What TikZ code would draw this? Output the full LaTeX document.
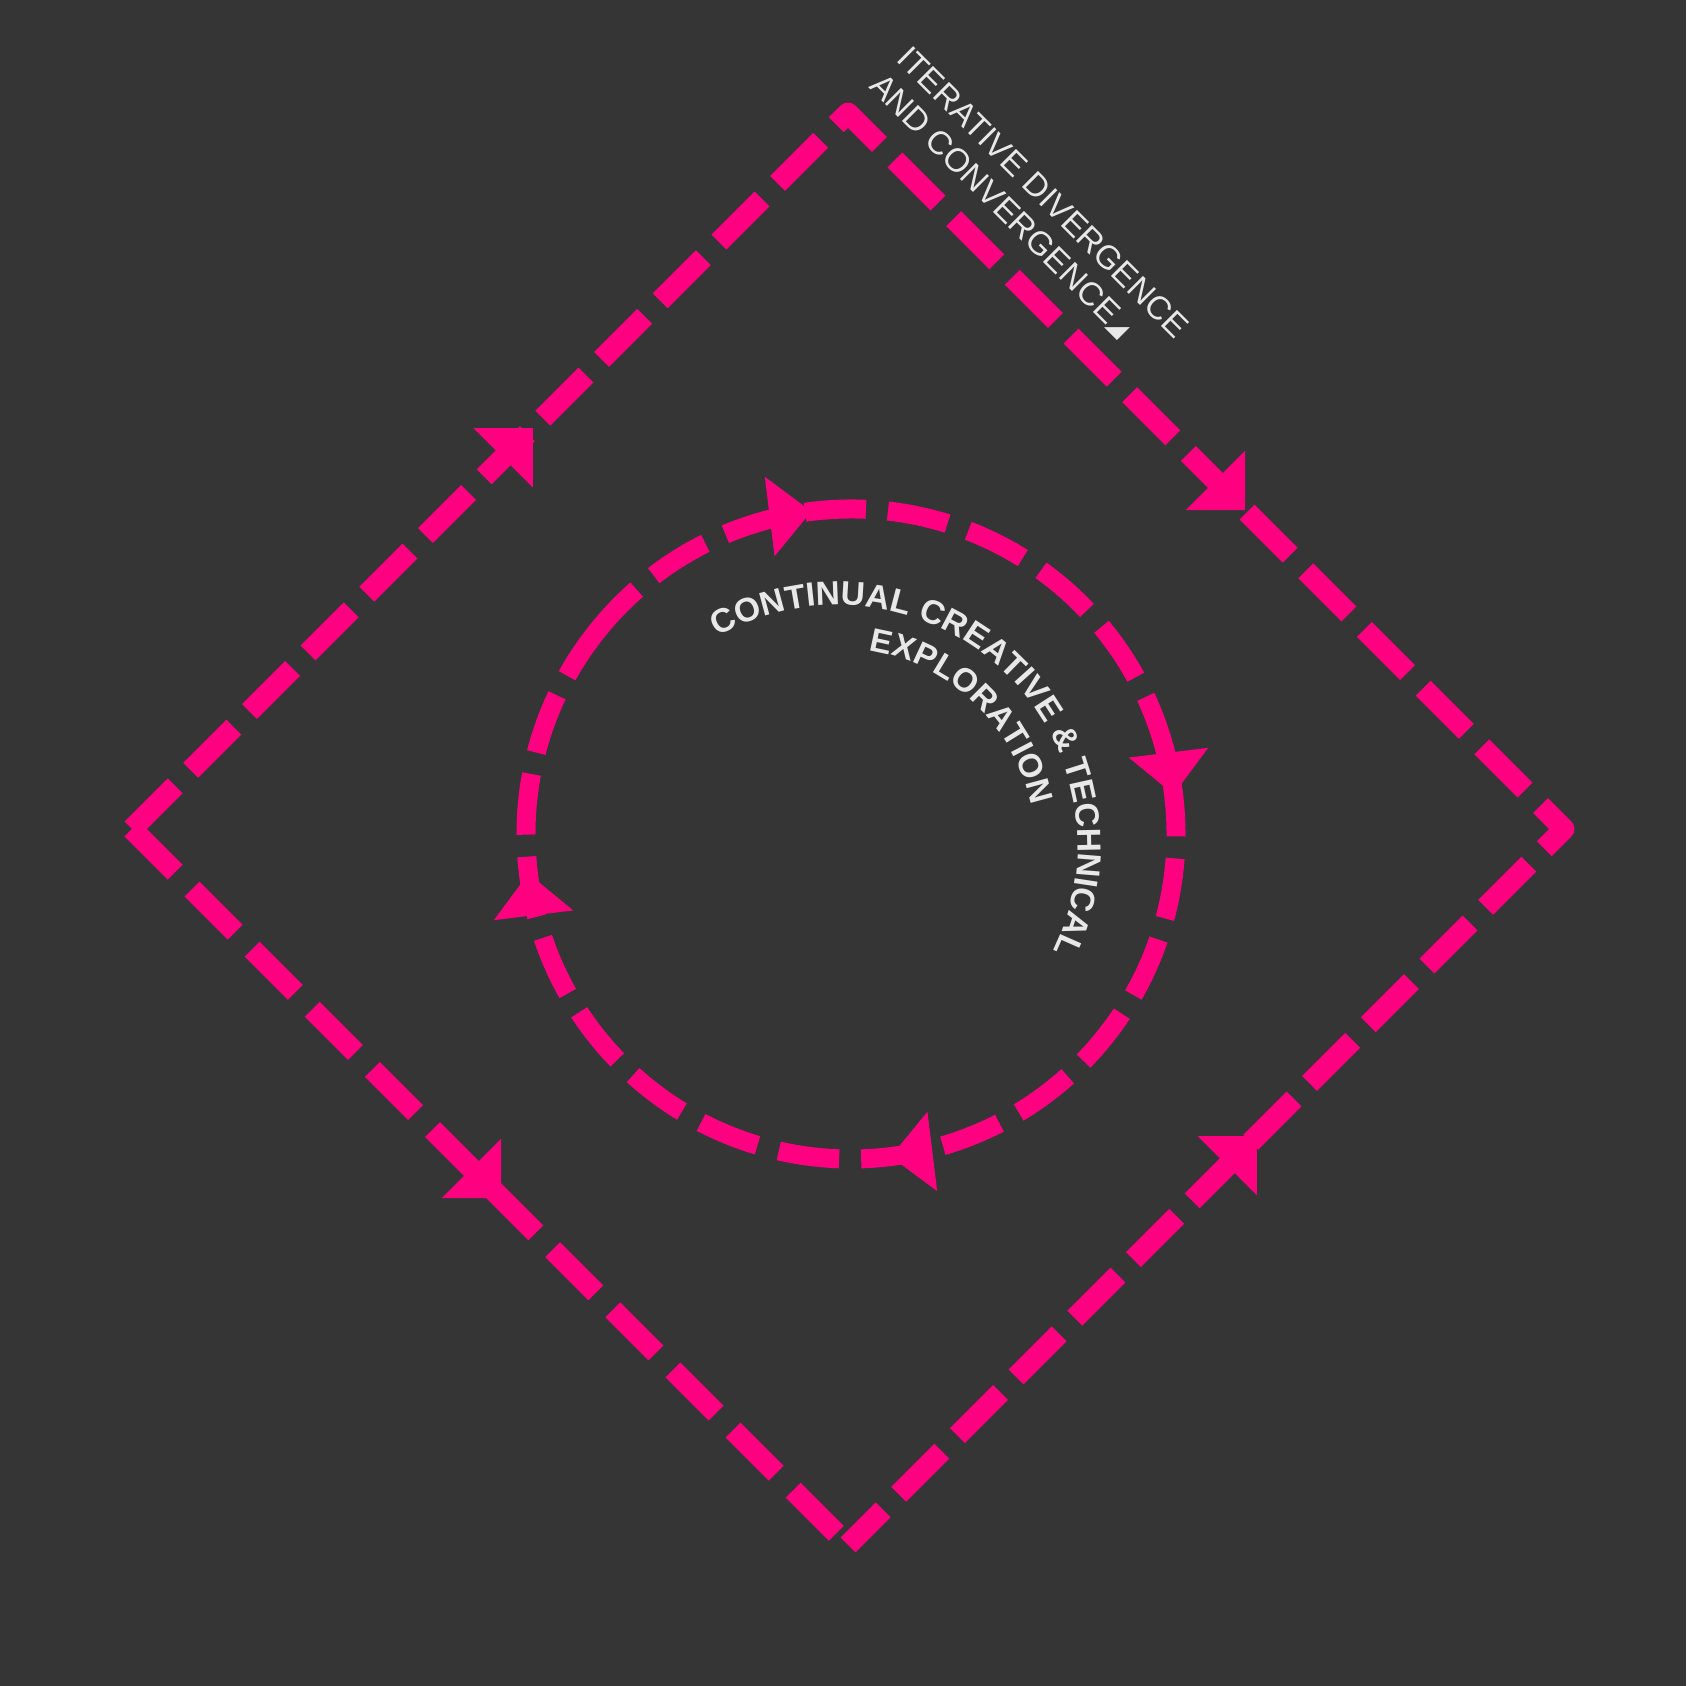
\documentclass[tikz,border=0pt]{standalone}
\usepackage{fontspec}
\setmainfont{Liberation Sans}
\newfontfamily\symfam{DejaVu Sans}
\usetikzlibrary{decorations.markings,decorations.text}
\definecolor{bgc}{HTML}{353535}
\definecolor{mag}{HTML}{FF0080}
\definecolor{txtc}{HTML}{E8E8E8}
\newcommand\diatip{\fill[mag] (0,0) -- (-42,42) -- (-42,-42) -- cycle;}
\newcommand\diatipback{\fill[mag] (0,0) -- (42,42) -- (42,-42) -- cycle;}
\newcommand\ringtip{\fill[mag] (0,0) -- (-42,40) -- (-42,-40) -- cycle;}
\begin{document}
\begin{tikzpicture}[x=1pt,y=1pt,
  flow/.style={draw=mag, line width=21pt, dash pattern=on 61pt off 22pt, line join=round},
  ring/.style={draw=mag, line width=19pt, dash pattern=on 61pt off 22pt},
  lbl/.style={text=txtc, font=\fontsize{33}{38}\selectfont, inner sep=0pt, rotate=-45, anchor=base west},
]
\fill[bgc] (0,0) rectangle (1686,1686);
\useasboundingbox (0,0) rectangle (1686,1686);
% diamond corners
\coordinate (L) at (132,857);
\coordinate (T) at (848,1573);
\coordinate (R) at (1564,857);
\coordinate (B) at (848,141);
% circle centre and text centre
\coordinate (C) at (851,852);
\coordinate (TC) at (838,841);
% upper path L -> T -> R, and the return edge R -> B
\draw[flow, postaction={decorate, decoration={markings,
   mark=at position 567pt with {\diatip},
   mark=at position 1574pt with {\diatip},
   mark=at position 2459pt with {\diatipback}}}]
  (L) -- (T) -- (R) -- (B);
% lower edge L -> B
\draw[flow, dash pattern=on 61pt off 24pt, postaction={decorate, decoration={markings,
   mark=at position 522pt with {\diatip}}}]
  (L) -- (B);
% inner loop, clockwise
\draw[ring, postaction={decorate, decoration={markings,
   mark=between positions 0.125 and 1 step 0.25 with {\ringtip}}}]
  (C) ++(142:325) arc[start angle=142, end angle=-218, radius=325];
% curved labels
\path[decorate, decoration={text along path, text color=txtc,
   text={|\fontsize{33.5}{33.5}\selectfont\bfseries|CONTINUAL CREATIVE {\&} TECHNICAL}}]
  (TC) ++(120:240) arc[start angle=120, end angle=-70, radius=240];
\path[decorate, decoration={text along path, text color=txtc,
   text={|\fontsize{33}{33}\selectfont\bfseries|EXPLORATION}}]
  (TC) ++(81:197) arc[start angle=81, end angle=-40, radius=197];
% rotated label
\node[lbl] (it1) at (895,1626) {ITERATIVE DIVERGENCE};
\node[lbl] (it2) at (868,1599) {AND CONVERGENCE{\symfam\fontsize{24}{24}\selectfont ◢}};
\end{tikzpicture}
\end{document}
